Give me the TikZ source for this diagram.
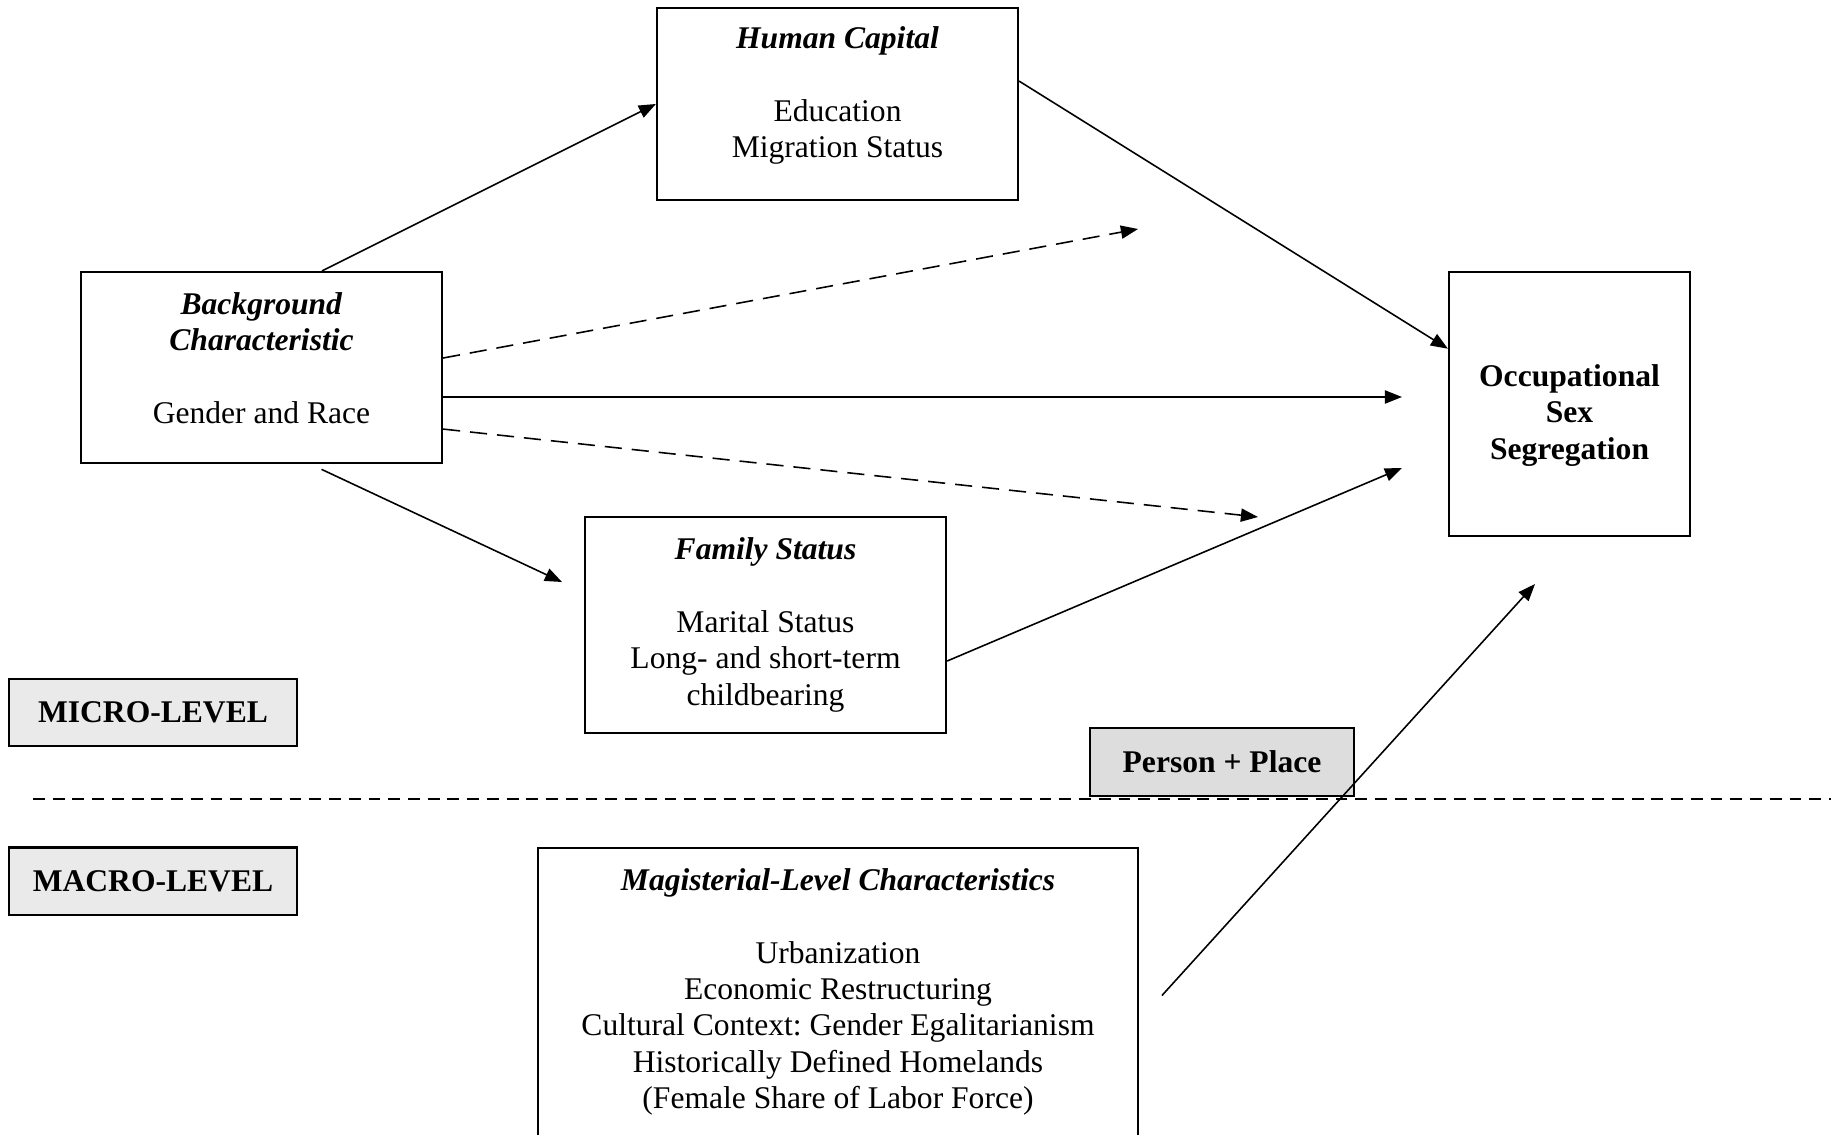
\documentclass[tikz,border=0pt]{standalone}
\usepackage{fontspec}
\setmainfont{Liberation Serif}
\frenchspacing
\usetikzlibrary{arrows.meta,positioning}
\definecolor{levelgray}{HTML}{EAEAEA}
\definecolor{placegray}{HTML}{DDDDDD}
\newcommand{\boxfont}{\fontsize{12}{13.8}\selectfont}
\tikzset{
	box/.style={
		draw,
		line width = 0.8pt,
		align = center,
		inner sep = 0pt
	},
	tag/.style={
		draw,
		line width = 0.8pt,
		font = \boxfont\bfseries,
		inner sep = 0pt
	},
	link/.style={
		line width = 0.6pt,
		-{Triangle[length=6.5pt,width=5pt]}
	},
	maybe/.style={
		link,
		dash pattern = on 6.5pt off 3.8pt
	},
}

\begin{document}
\begin{tikzpicture}[x=0.38pt, y=-0.38pt, font=\boxfont]
    \useasboundingbox (0,0) rectangle (1843,1135);
    % micro-level boxes
    \node[box, minimum width=137.2pt, minimum height=73pt, text depth=8.8pt] (hc) at (837.5,104)
      {\textbf{\textit{Human Capital}}\\[13.8pt]Education\\Migration Status};
    \node[box, minimum width=137.2pt, minimum height=72.6pt, text depth=7.3pt] (bg) at (261.5,367.5)
      {\textbf{\textit{Background}}\\\textbf{\textit{Characteristic}}\\[13.8pt]Gender and Race};
    \node[box, minimum width=137.2pt, minimum height=82pt] (fam) at (765.5,625)
      {\textbf{\textit{Family Status}}\\[13.8pt]Marital Status\\Long- and short-term\\childbearing};
    \node[box, font=\boxfont\bfseries, minimum width=91.6pt, minimum height=100.3pt] (occ) at (1569.5,404)
      {\rule{0pt}{17pt}Occupational\\Sex\\Segregation};
    % macro-level box
    \node[box, minimum width=228pt, minimum height=112pt, text depth=5.3pt] (mag) at (838,995.5)
      {\textbf{\textit{Magisterial-Level Characteristics}}\\[13.8pt]Urbanization\\Economic Restructuring\\
       Cultural Context: Gender Egalitarianism\\Historically Defined Homelands\\(Female Share of Labor Force)};
    % level tags
    \node[tag, fill=levelgray, minimum width=109.4pt, minimum height=25.5pt] (micro) at (153,712.5) {MICRO-LEVEL};
    \node[tag, fill=levelgray, minimum width=109.4pt, minimum height=25.5pt] (macro) at (153,881) {MACRO-LEVEL};
    \node[tag, fill=placegray, minimum width=100.3pt, minimum height=25.8pt] (place) at (1222,762) {Person + Place};
    \coordinate (sep-l) at (33,799);
    \coordinate (sep-r) at (1831,799);
    \draw[line width=0.6pt, dash pattern=on 4.5pt off 3pt] (sep-l) -- (sep-r);
    % free arrow ends
    \coordinate (up-end) at (1138,229);
    \coordinate (mid-end) at (1402,397);
    \coordinate (low-end) at (1258,517);
    \coordinate (fam-end) at (562,582);
    \coordinate (fs-end) at (1402,468);
    \coordinate (mag-end) at (1535,584);
    % paths
    \draw[link] ([xshift=23pt]bg.north) -- (hc.west);
    \draw[link] ([yshift=8.7pt]hc.east) -- ([yshift=21pt]occ.west);
    \draw[maybe] ([yshift=3.6pt]bg.east) -- (up-end);
    \draw[link] ([yshift=-11.2pt]bg.east) -- (mid-end);
    \draw[maybe] ([yshift=-23.4pt]bg.east) -- (low-end);
    \draw[link] ([xshift=22.8pt,yshift=-2pt]bg.south) -- (fam-end);
    \draw[link] ([yshift=-13.7pt]fam.east) -- (fs-end);
    \draw[link] ([xshift=8.7pt]mag.east) -- (mag-end);
\end{tikzpicture}
\end{document}
